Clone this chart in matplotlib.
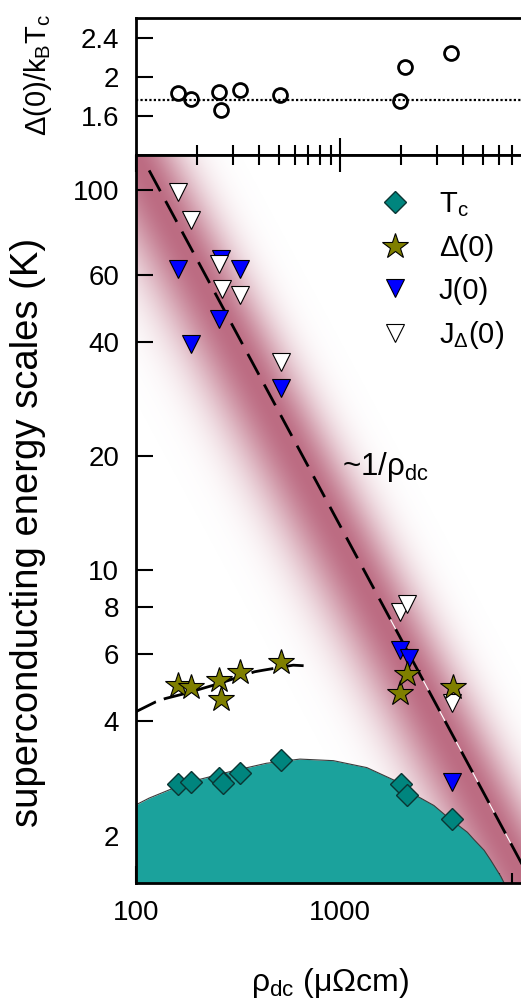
import numpy as np
import matplotlib
matplotlib.use('Agg')
import matplotlib.pyplot as plt
from matplotlib.ticker import LogLocator, NullLocator, NullFormatter

plt.rcParams['font.family'] = ['Liberation Sans', 'DejaVu Sans']
plt.rcParams['mathtext.fontset'] = 'custom'
plt.rcParams['mathtext.rm'] = 'Liberation Sans'
plt.rcParams['mathtext.it'] = 'Liberation Sans'
plt.rcParams['mathtext.default'] = 'regular'

# ---- data (rho_dc in micro-ohm cm) ----
# top panel: gap ratio Delta(0)/kB Tc
rho_ratio = [160, 185, 256, 261, 324, 510, 1977, 2090, 3480]
ratio = [1.833, 1.772, 1.846, 1.66, 1.866, 1.813, 1.755, 2.10, 2.245]
bcs_ratio = 1.764

# bottom panel
rho_tc = [160, 186, 256, 268, 324, 516, 1990, 2120, 3540]
tc = [2.73, 2.77, 2.83, 2.75, 2.92, 3.16, 2.73, 2.56, 2.21]

rho_gap = [160, 186, 254, 261, 324, 516, 1976, 2120, 3560]
gap = [4.98, 4.91, 5.15, 4.57, 5.40, 5.72, 4.74, 5.32, 4.91]

rho_j = [160, 186, 261, 256, 324, 516, 1976, 2170, 3540]
j0 = [62.2, 39.5, 66.1, 45.9, 62.2, 30.1, 6.16, 5.86, 2.77]

rho_jd = [160, 186, 256, 264, 324, 516, 1976, 2140, 3540]
jd = [99, 83.7, 64.1, 55.1, 53.2, 35.3, 7.77, 8.15, 4.46]

# superconducting dome (Tc guide)
dome_rho = [100, 116, 151, 204, 298, 435, 636, 927, 1353, 1976, 2296, 2884,
            3356, 4210, 4540, 5080, 5485, 6140, 6370, 6600]
dome_tc = [2.41, 2.51, 2.66, 2.81, 2.96, 3.10, 3.18, 3.15, 3.02, 2.75, 2.57, 2.40,
           2.24, 2.04, 1.95, 1.83, 1.72, 1.56, 1.50, 1.44]

# guide line through the Delta(0) points
gapline_rho = [100, 125, 139, 176, 256, 381, 419, 589, 673]
gapline = [4.24, 4.50, 4.59, 4.74, 5.03, 5.40, 5.45, 5.62, 5.60]

# ~1/rho line: J = C / rho
scale_const = 13100
fit_rho = [116, 8530]
white_rho = [1700, 8530]

yticks = [2, 4, 6, 8, 10, 20, 40, 60, 100]
top_yticks = [1.6, 2, 2.4]

# ---- layout (pixels of the 521x1007 image) ----
W, H = 521., 1007.
x0, x1 = 136, 530
xlim = (100, 8530)
ylim = (1.5, 124)

fig = plt.figure(figsize=(W / 100, H / 100), dpi=100)
ax_top = fig.add_axes([x0 / W, 1 - 155 / H, (x1 - x0) / W, (155 - 18) / H])
ax = fig.add_axes([x0 / W, 1 - 883 / H, (x1 - x0) / W, (883 - 155) / H])

# pink gradient band along the 1/rho line, drawn in axes coordinates
nx, ny = 500, 900
FX, FY = np.meshgrid(np.linspace(0, 1, nx), np.linspace(0, 1, ny))
lx = np.log10(xlim[0]) + FX * (np.log10(xlim[1]) - np.log10(xlim[0]))
ly = np.log10(ylim[0]) + FY * (np.log10(ylim[1]) - np.log10(ylim[0]))
px_per_dec = (x1 - x0) / (np.log10(xlim[1]) - np.log10(xlim[0]))
d = (lx - (np.log10(scale_const) - ly)) * px_per_dec + 6
width = np.where(d < 0, 56.0, 45.0)   # fades a little further on the left
img = np.zeros((ny, nx, 4))
img[..., 0], img[..., 1], img[..., 2] = 0.74, 0.42, 0.51
img[..., 3] = np.exp(-(d / width) ** 2)
ax.imshow(img, extent=(0, 1, 0, 1), transform=ax.transAxes, origin='lower',
          aspect='auto', interpolation='bilinear', zorder=0)

ax.fill_between(dome_rho, dome_tc, 1.0, color='#1ba29c', lw=0, zorder=2)
ax.plot(dome_rho, dome_tc, color='#3c3c3c', lw=0.8, zorder=2.1)

fit_j = [scale_const / r for r in fit_rho]
white_j = [scale_const / r for r in white_rho]
ax.plot(white_rho, white_j, color='white', lw=0.8, zorder=3)
ax.plot(fit_rho, fit_j, color='k', lw=2, ls=(0, (8.5, 4)), zorder=3.1)
ax.plot(gapline_rho, gapline, color='k', lw=2, ls=(0, (8, 3)), zorder=3.1)

ax.plot(rho_tc, tc, 'D', ms=11.5, mfc='#00857e', mec='#0b3533', mew=1, zorder=5,
        label='$T_c$')
ax.plot(rho_gap, gap, '*', ms=19, mfc='#7f7f00', mec='k', mew=0.8, zorder=7,
        label='Δ(0)')
ax.plot(rho_j, j0, 'v', ms=13.5, mfc='#0000ff', mec='k', mew=0.8, zorder=5,
        label='J(0)')
ax.plot(rho_jd, jd, 'v', ms=13.5, mfc='white', mec='k', mew=0.8, zorder=6,
        label='$J_Δ$(0)')

ax.text(1023, 17.8, '~1/$ρ_{dc}$', fontsize=22.5, ha='left', va='baseline', zorder=8)

ax.legend(loc='upper left', bbox_to_anchor=(0.621, 0.951), frameon=False,
          fontsize=21, handlelength=1.0, handletextpad=1.0, labelspacing=0.5,
          borderpad=0, borderaxespad=0, numpoints=1)

# top panel
ax_top.plot(rho_ratio, ratio, 'o', ms=10, mfc='none', mec='k', mew=2, zorder=5)
ax_top.axhline(bcs_ratio, color='k', ls=(0, (1, 1)), lw=1.6, zorder=3)

for a in (ax_top, ax):
    a.set_xscale('log')
    a.set_xlim(xlim)
    for s in a.spines.values():
        s.set_linewidth(2)
    a.spines['right'].set_visible(False)
    a.xaxis.set_minor_locator(LogLocator(subs=range(2, 10)))
    a.xaxis.set_minor_formatter(NullFormatter())
    a.tick_params(which='both', direction='in', width=1.5, right=False,
                  labelsize=20)
    a.tick_params(which='major', length=12)
    a.tick_params(which='minor', length=7)

ax.set_yscale('log')
ax.set_ylim(ylim)
ax.set_yticks(yticks, [str(t) for t in yticks])
ax.yaxis.set_minor_locator(NullLocator())
ax.set_xticks([100, 1000], ['100', '1000'])
ax.tick_params(axis='x', which='both', top=True, pad=12)
ax.tick_params(axis='y', pad=12)

ax_top.set_ylim(1.2, 2.6)
ax_top.set_yticks(top_yticks, ['1.6', '2', '2.4'])
ax_top.set_xticks([1000])
ax_top.tick_params(axis='x', which='both', top=False, labelbottom=False)
ax_top.tick_params(axis='y', pad=12)

fig.text(28 / W, 1 - 532 / H, 'superconducting energy scales (K)', fontsize=27.5,
         rotation=90, ha='center', va='center')
fig.text(330 / W, 1 - 983 / H, '$ρ_{dc}$ (μΩcm)', fontsize=23,
         ha='center', va='center')
fig.text(38 / W, 1 - 75 / H, 'Δ(0)/$k_BT_c$', fontsize=21,
         rotation=90, ha='center', va='center')

fig.savefig('out.png', dpi=100)
